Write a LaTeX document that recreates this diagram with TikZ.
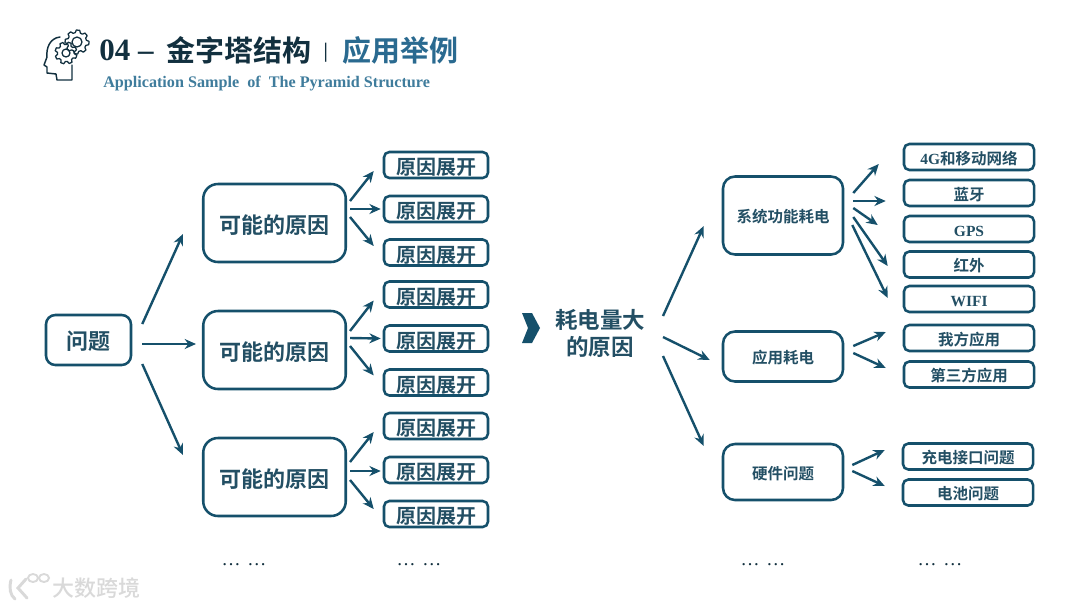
\documentclass[tikz,border=0pt]{standalone}
\usepackage{fontspec}
\usetikzlibrary{arrows.meta}
\setmainfont{Liberation Serif}
\newfontfamily\cjkb{Noto Sans CJK SC Bold}
\newfontfamily\cjkm{Noto Sans CJK SC Medium}
\newfontfamily\latb{Liberation Serif Bold}
\newcommand{\fsz}[1]{\fontsize{\dimexpr#1pt*3/4\relax}{\dimexpr#1pt*9/8\relax}\selectfont}
\definecolor{main}{HTML}{15506B}
\definecolor{ink}{HTML}{234F64}
\definecolor{dark}{HTML}{12303F}
\definecolor{accent}{HTML}{2A6A90}
\definecolor{sub}{HTML}{3F7C9C}
\definecolor{wm}{HTML}{D9D9D9}
\tikzset{
  pbox/.style={draw=main,line width=1.9pt,inner sep=0pt,align=center,text=ink,font=\cjkb,text depth=0pt},
  bigbox/.style={pbox,rounded corners=11pt,minimum width=142.5*0.75,minimum height=78*0.75,text height=15.5pt},
  midbox/.style={pbox,rounded corners=9pt,minimum width=120*0.75,font=\cjkb\fsz{15.5},text height=11.2pt},
  tinybox/.style={pbox,rounded corners=4pt,minimum height=26*0.75},
  causebox/.style={tinybox,minimum width=104*0.75,font=\cjkb\fsz{20},text height=14.4pt},
  itembox/.style={tinybox,minimum width=130*0.75,font=\cjkb\fsz{15.5},text height=11.2pt},
  arr/.style={draw=main,line width=1.8pt,-{Stealth[length=8.5pt,width=7.5pt]}},
  dots/.style={anchor=base,text=dark,font=\fsz{19}},
  plain/.style={inner sep=0pt,anchor=base west},
  gearline/.style={draw=dark,line width=0.95pt,line join=round}
}
\newcommand{\gearshape}[5]{% cx cy outer inner rot
  \draw[gearline] (#1,#2) ++(#5:#3)
    \foreach \k in {0,...,7}{
      -- ++(0,0) -- ({#1+#3*cos(#5+45*\k+8)},{#2+#3*sin(#5+45*\k+8)})
      -- ({#1+#4*cos(#5+45*\k+16)},{#2+#4*sin(#5+45*\k+16)})
      -- ({#1+#4*cos(#5+45*\k+29)},{#2+#4*sin(#5+45*\k+29)})
      -- ({#1+#3*cos(#5+45*\k+37)},{#2+#3*sin(#5+45*\k+37)})
    } -- cycle;
}
\begin{document}
\begin{tikzpicture}[x=0.75pt,y=-0.75pt]
\useasboundingbox[fill=white] (0,0) rectangle (1080,608);

% icon
\draw[gearline,line width=1.1pt,line cap=round] (60,37) .. controls (50,38) and (46,48) .. (47,57) -- (44,65) -- (47,67) -- (47,73) -- (56,74) -- (57,80) -- (72,80) -- (72,65);
\gearshape{77}{42}{12}{9.5}{5}
\draw[gearline] (77,42) circle (5);
\gearshape{66}{53}{11}{8.5}{20}
\draw[gearline] (66,53) circle (4);

% title
\node[plain,text=dark,font=\bfseries\fsz{31}] (t1) at (99,60) {04 –};
\node[plain,text=dark,font=\cjkb\fsz{29}] (t2) at (166,61) {金字塔结构};
\node[plain,text=dark,font=\cjkm\fsz{17}] (t3) at (323,57) {|};
\node[plain,text=accent,font=\cjkb\fsz{29}] (t4) at (342,61) {应用举例};
\node[plain,text=sub,font=\bfseries\fsz{16.15}] (t5) at (103,87) {Application Sample\ \ of\ \ The Pyramid Structure};

% left tree
\node[pbox,rounded corners=7pt,minimum width=85*0.75,minimum height=50*0.75,font=\cjkb\fsz{22},text height=14pt] (q) at (88.5,340) {问题};
\node[bigbox,font=\cjkb\fsz{22}] (c1) at (274.5,223) {可能的原因};
\node[bigbox,font=\cjkb\fsz{22}] (c2) at (274.5,350) {可能的原因};
\node[bigbox,font=\cjkb\fsz{22}] (c3) at (274.5,477) {可能的原因};
\node[causebox] (s11) at (436,165) {原因展开};
\node[causebox] (s12) at (436,209) {原因展开};
\node[causebox] (s13) at (436,252.5) {原因展开};
\node[causebox] (s21) at (436,294.5) {原因展开};
\node[causebox] (s22) at (436,338.5) {原因展开};
\node[causebox] (s23) at (436,382.5) {原因展开};
\node[causebox] (s31) at (436,426) {原因展开};
\node[causebox] (s32) at (436,470) {原因展开};
\node[causebox] (s33) at (436,514) {原因展开};

\draw[arr] ([shift={(10,-16)}]q.east) -- ([shift={(-19,11)}]c1.west);
\draw[arr] ([shift={(10,4)}]q.east) -- ([shift={(-6,-6)}]c2.west);
\draw[arr] ([shift={(10,24)}]q.east) -- ([shift={(-19,-22)}]c3.west);

\draw[arr] ([shift={(3,-22)}]c1.east) -- ([shift={(-9,6)}]s11.west);
\draw[arr] ([shift={(3,-14)}]c1.east) -- ([shift={(-2,0)}]s12.west);
\draw[arr] ([shift={(3,-6)}]c1.east) -- ([shift={(-9,-6.5)}]s13.west);
\draw[arr] ([shift={(3,-19)}]c2.east) -- ([shift={(-9,6)}]s21.west);
\draw[arr] ([shift={(3,-12)}]c2.east) -- ([shift={(-2,0)}]s22.west);
\draw[arr] ([shift={(3,-4)}]c2.east) -- ([shift={(-9,-7)}]s23.west);
\draw[arr] ([shift={(3,-15)}]c3.east) -- ([shift={(-9,6)}]s31.west);
\draw[arr] ([shift={(3,-6)}]c3.east) -- ([shift={(-2,1)}]s32.west);
\draw[arr] ([shift={(3,3)}]c3.east) -- ([shift={(-9,-5)}]s33.west);

% chevron
\fill[main] (522,313) -- (532,313) -- (540,328) -- (532,343) -- (522,343) -- (528,328) -- cycle;

% right tree
\node[inner sep=0pt,align=center,text=ink,font=\cjkb\fsz{22.5}] (m) at (600,333.5) {耗电量大\\[-5.25pt]的原因};
\node[midbox,minimum height=78*0.75] (sys) at (783,215.5) {系统功能耗电};
\node[midbox,minimum height=50*0.75] (app) at (783,356.5) {应用耗电};
\node[midbox,minimum height=56*0.75] (hw) at (783,472) {硬件问题};
\node[itembox] (r1) at (969,157) {{\latb 4G}和移动网络};
\node[itembox] (r2) at (969,193) {蓝牙};
\node[itembox] (r3) at (969,229) {\latb GPS};
\node[itembox] (r4) at (969,264.5) {红外};
\node[itembox] (r5) at (969,299) {\latb WIFI};
\node[itembox] (r6) at (969,338) {我方应用};
\node[itembox] (r7) at (969,374.5) {第三方应用};
\node[itembox] (r8) at (968,456.5) {充电接口问题};
\node[itembox] (r9) at (968,492.5) {电池问题};

\draw[arr] ([shift={(63,-17.5)}]m.center) -- ([shift={(-18,10.5)}]sys.west);
\draw[arr] ([shift={(63,3.5)}]m.center) -- ([shift={(-12,3.5)}]app.west);
\draw[arr] ([shift={(63,22.5)}]m.center) -- ([shift={(-18,-26)}]hw.west);

\draw[arr] ([shift={(9,-22.5)}]sys.east) -- ([shift={(-24,7)}]r1.west);
\draw[arr] ([shift={(9,-14.5)}]sys.east) -- ([shift={(-17,8)}]r2.west);
\draw[arr] ([shift={(9,-7.5)}]sys.east) -- ([shift={(-25,-4)}]r3.west);
\draw[arr] ([shift={(9,1.5)}]sys.east) -- ([shift={(-15,1.5)}]r4.west);
\draw[arr] ([shift={(8,9.5)}]sys.east) -- ([shift={(-15,-1)}]r5.west);
\draw[arr] ([shift={(9,-10.5)}]app.east) -- ([shift={(-17,-6)}]r6.west);
\draw[arr] ([shift={(9,-3.5)}]app.east) -- ([shift={(-17,-6.5)}]r7.west);
\draw[arr] ([shift={(8,-7)}]hw.east) -- ([shift={(-17,-6.5)}]r8.west);
\draw[arr] ([shift={(8,-1)}]hw.east) -- ([shift={(-17,-6.5)}]r9.west);

% ellipses
\node[dots] (e1) at (244,565) {…\hspace{5pt}…};
\node[dots] (e2) at (419,565) {…\hspace{5pt}…};
\node[dots] (e3) at (763,565) {…\hspace{5pt}…};
\node[dots] (e4) at (940,565) {…\hspace{5pt}…};

% watermark
\draw[wm,line width=2.2pt,line cap=round] (11,580) .. controls (9,588) and (10,595) .. (15,599);
\draw[wm,line width=2.2pt,line cap=round] (26,579) -- (18,588) -- (27,598);
\draw[wm,line width=1.4pt] (33,578) ellipse (5 and 4);
\draw[wm,line width=1.4pt] (44,578) ellipse (5 and 4);
\node[plain,text=wm,font=\cjkm\fsz{22}] (w) at (52,596) {大数跨境};
\end{tikzpicture}
\end{document}
